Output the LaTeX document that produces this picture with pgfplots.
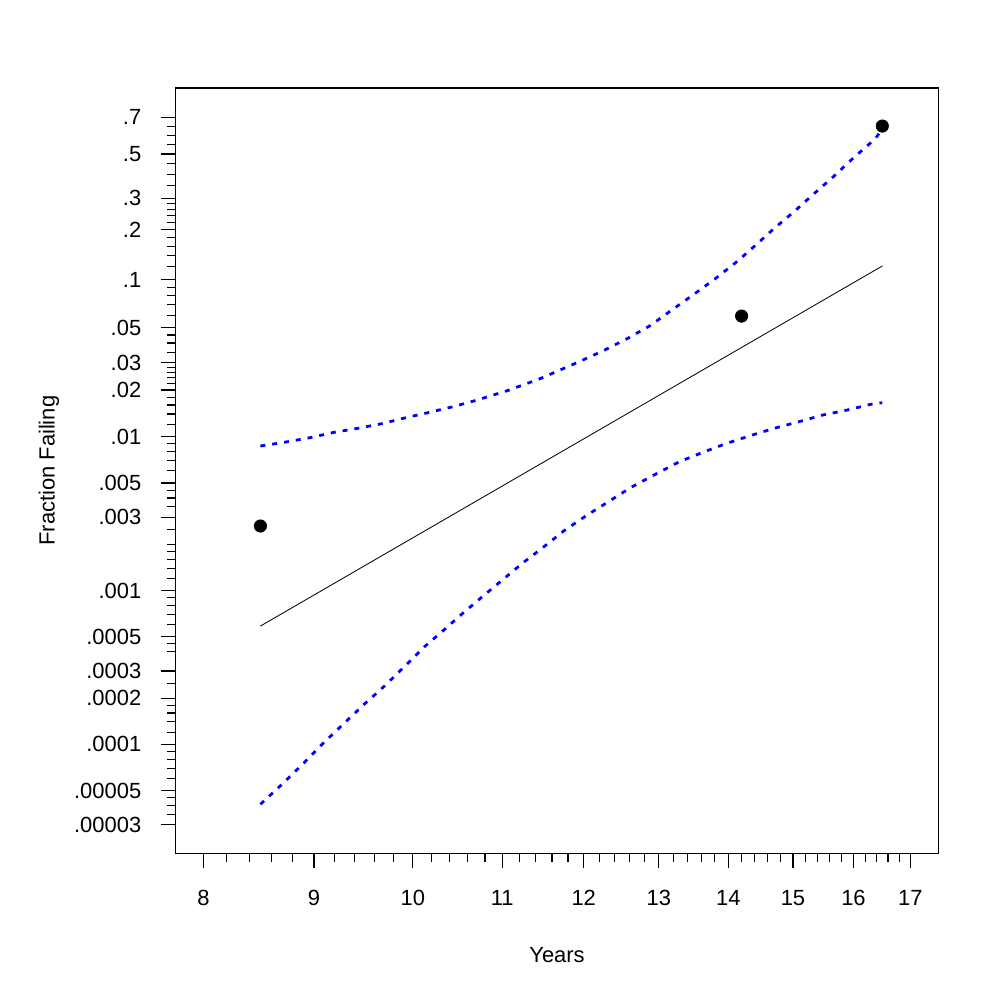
\documentclass[border=0pt]{standalone}
\usepackage{fontspec}
\setmainfont{Liberation Sans}
\usepackage{pgfplots}
\pgfplotsset{compat=1.18}
\newcommand\wbfont{\fontsize{15.8pt}{19pt}\selectfont}
\begin{document}
\begin{tikzpicture}
\path[use as bounding box] (-126.36pt,-105.6pt) rectangle ++(720pt,720pt);
\begin{axis}[
  at={(0,0)}, anchor=south west,
  scale only axis, width=549.4pt, height=551pt,
  xmode=log, xmin=7.7647, xmax=17.52,
  ymin=0.00001954, ymax=0.8447,
  y coord trafo/.code={%
    \begingroup
    \pgfkeys{/pgf/fpu=true,/pgf/fpu/output format=fixed}%
    \pgfmathparse{#1<0.05}%
    \ifdim\pgfmathresult pt>0.5pt
      \pgfmathparse{ln(#1+(#1)^2/2+(#1)^3/3+(#1)^4/4)}%
    \else
      \pgfmathparse{ln(-ln(1-#1))}%
    \fi
    \xdef\wbres{\pgfmathresult}%
    \endgroup
    \let\pgfmathresult\wbres
  },
  xtick={8,9,10,11,12,13,14,15,16,17},
  xticklabels={8,9,10,11,12,13,14,15,16,17},
  minor xtick={8.2,8.4,8.6,8.8,9.2,9.4,9.6,9.8,10.2,10.4,10.6,10.8,11.2,11.4,11.6,11.8,12.2,12.4,12.6,12.8,13.2,13.4,13.6,13.8,14.2,14.4,14.6,14.8,15.2,15.4,15.6,15.8,16.2,16.4,16.6,16.8},
  ytick={0.00003,0.00005,0.0001,0.0002,0.0003,0.0005,0.001,0.003,0.005,0.01,0.02,0.03,0.05,0.1,0.2,0.3,0.5,0.7},
  yticklabels={.00003,.00005,.0001,.0002,.0003,.0005,.001,.003,.005,.01,.02,.03,.05,.1,.2,.3,.5,.7},
  minor ytick={0.000035,0.00004,0.000045,0.00006,0.00007,0.00008,0.00009,0.00012,0.00014,0.00016,0.00018,0.00025,0.0004,0.00045,0.0006,0.0007,0.0008,0.0009,0.0012,0.0014,0.0016,0.0018,0.002,0.0025,0.0035,0.004,0.0045,0.006,0.007,0.008,0.009,0.012,0.014,0.016,0.018,0.022,0.024,0.026,0.028,0.035,0.04,0.045,0.06,0.07,0.08,0.09,0.12,0.14,0.16,0.18,0.22,0.24,0.26,0.28,0.35,0.4,0.45,0.55,0.6,0.65},
  tick pos=left, tick align=outside,
  major tick length=10.8pt, minor tick length=6pt,
  tick style={black, line width=0.8pt},
  axis line style={black, line width=0.8pt},
  tick label style={font=\wbfont},
  xticklabel style={inner sep=0pt, anchor=north, yshift=-15.8pt},
  yticklabel style={inner sep=0pt, anchor=east, xshift=-13.7pt},
  xlabel={Years}, ylabel={Fraction Failing},
  every axis x label/.style={at={(axis description cs:0.5,-0.1229)}, anchor=north, inner sep=0pt, font=\wbfont},
  every axis y label/.style={at={(axis description cs:-0.1796,0.5)}, rotate=90, anchor=north, inner sep=0pt, font=\wbfont},
]
\addplot[blue, line width=2pt, dash pattern=on 3.6pt off 5pt] coordinates {
(8.5,0.00869) (8.733,0.00922) (8.959,0.00983) (9.195,0.01066) (9.430,0.01131)
(9.674,0.01212) (9.925,0.01325) (10.178,0.01435) (10.436,0.0156) (10.698,0.01715)
(11.069,0.01987) (11.454,0.02366) (11.851,0.02902) (12.253,0.03572) (12.577,0.04287)
(12.879,0.05153) (13.181,0.06474) (13.502,0.08155) (13.814,0.10202) (14.116,0.12783)
(14.405,0.16087) (14.705,0.20362) (15.017,0.25317) (15.329,0.31539) (15.660,0.38924)
(16.009,0.48287) (16.372,0.58) (16.5,0.635)};
\addplot[blue, line width=2pt, dash pattern=on 3.6pt off 5pt] coordinates {
(8.5,0.0000407) (8.701,0.0000552) (8.893,0.0000744) (9.081,0.0001005) (9.286,0.0001355)
(9.494,0.0001821) (9.706,0.0002405) (9.910,0.0003198) (10.118,0.0004278) (10.328,0.0005484)
(10.547,0.0007117) (10.770,0.0009127) (11.002,0.001172) (11.239,0.001505) (11.486,0.001901)
(11.750,0.002450) (12.038,0.003085) (12.319,0.003780) (12.621,0.004688) (12.958,0.005720)
(13.288,0.006874) (13.624,0.007908) (13.977,0.009045) (14.329,0.01013) (14.700,0.01131)
(15.097,0.01249) (15.484,0.01379) (15.873,0.01479) (16.297,0.01617) (16.5,0.01656)};
\addplot[black, line width=0.6pt] coordinates {(8.5,0.000588) (16.5,0.1214)};
\addplot[only marks, mark=*, mark size=4.5pt, black] coordinates {(8.5,0.00263) (14.2,0.0593) (16.5,0.6514)};
\end{axis}
\end{tikzpicture}
\end{document}
